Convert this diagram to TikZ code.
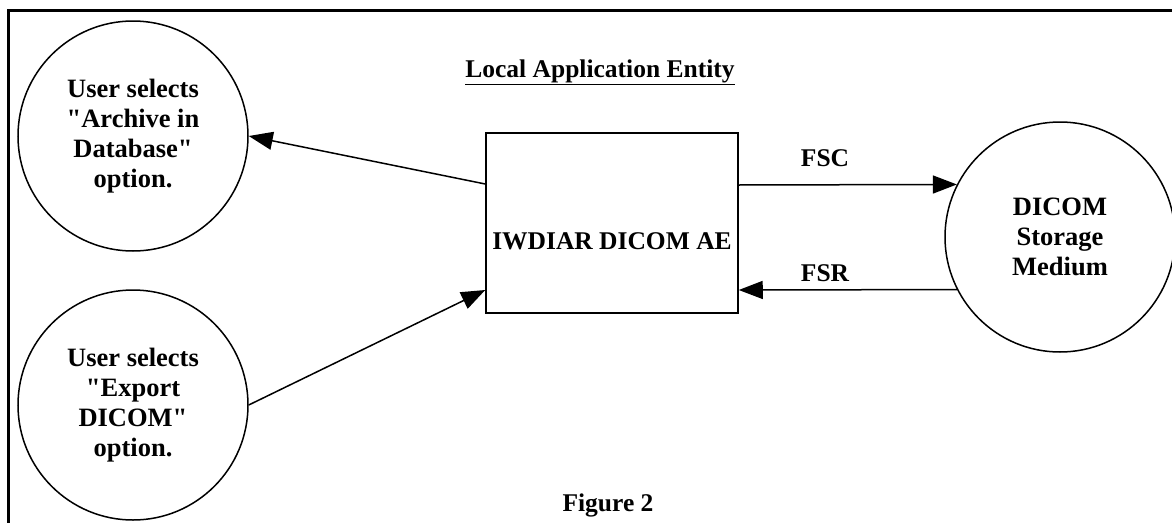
\documentclass[tikz,border=0pt]{standalone}
\usepackage{fontspec}
\setmainfont{Liberation Serif}
\usepackage{tikz}
\usetikzlibrary{arrows.meta}
\tikzset{
  bigtext/.style={font=\bfseries\fontsize{25.5}{30}\selectfont},
  actor/.style={circle, draw, line width=1.5pt, minimum size=230pt, inner sep=0pt, align=center,
                font=\bfseries\fontsize{26.5}{30}\selectfont},
}

\begin{document}
\begin{tikzpicture}[x=1pt, y=-1pt, line width=1.5pt, >={Triangle[length=24pt,width=18pt]}]

      \useasboundingbox (0,0) rectangle (1172,522);
      \draw [line width=3pt] (8.5,530) -- (8.5,10.5) -- (1180,10.5);

      \node [bigtext]  (title)  at (600,72) {\underline{Local Application Entity}};

      \node [actor]  (arch)  at (133,136) {User selects\\\textquotedbl Archive in\\Database\textquotedbl\\option.};
      \node [actor]  (expo)  at (133,405) {User selects\\\textquotedbl Export\\DICOM\textquotedbl\\option.};

      \node [rectangle, draw, minimum width=252pt, minimum height=180pt,
             text height=60pt, text depth=8pt, bigtext]
             (ae)  at (612,223) {IWDIAR DICOM AE};

      \node [actor]  (dsm)  at (1060,237) {DICOM\\Storage\\Medium};

      \draw [->]  ([yshift=39pt]ae.west) to (arch.east);
      \draw [->]  (expo.east) to ([yshift=-67pt]ae.west);

      \node [bigtext]  (fsc)  at (825,158) {FSC};
      \node [bigtext]  (fsr)  at (825,273) {FSR};
      \draw [->]  ([yshift=38pt]ae.east) to (dsm.153);
      \draw [->]  (dsm.207) to ([yshift=-67pt]ae.east);

      \node [bigtext]  (fig)  at (608,505) {Figure 2};
    \end{tikzpicture}
\end{document}
